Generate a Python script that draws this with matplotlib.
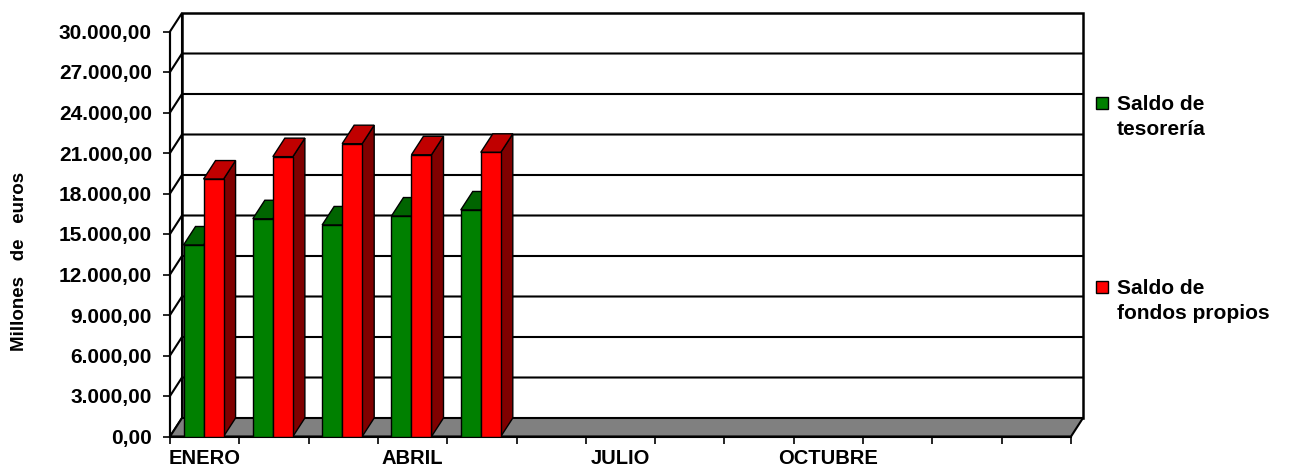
import matplotlib
matplotlib.use("Agg")
import matplotlib.pyplot as plt
import numpy as np
from matplotlib.patches import Polygon, Rectangle
from matplotlib.ticker import FuncFormatter

plt.rcParams["font.family"] = ["Liberation Sans", "DejaVu Sans"]
plt.rcParams["font.weight"] = "bold"

# ---------------------------------------------------------------------------
# Data
# ---------------------------------------------------------------------------
MESES = ["ENERO", "FEBRERO", "MARZO", "ABRIL", "MAYO", "JUNIO", "JULIO",
         "AGOSTO", "SEPTIEMBRE", "OCTUBRE", "NOVIEMBRE", "DICIEMBRE", ""]
TESORERIA = [14185, 16130, 15670, 16330, 16780]
FONDOS_PROPIOS = [19070, 20730, 21690, 20870, 21050]
SERIES = ["Saldo de\ntesorería", "Saldo de\nfondos propios"]
Y_TICKS = [0, 3000, 6000, 9000, 12000, 15000, 18000, 21000, 24000, 27000, 30000]
Y_LABEL = "Millones   de   euros"

# colours: front / top / side
GREEN = ("#008000", "#006400", "#004000")
RED = ("#ff0000", "#c00000", "#800000")

W, H = 1298, 468
Y_MAX = Y_TICKS[-1]
n = len(MESES)

# 3D depth offset, pixels -> data units
DX_PX, DY_PX = 12, 18.5
FRONT_W_PX, FRONT_H_PX = 901, 405
ddx = DX_PX / (FRONT_W_PX / n)
ddy = DY_PX * Y_MAX / FRONT_H_PX


def es_fmt(v, _pos=None):
    s = f"{v:,.2f}"
    return s.replace(",", "X").replace(".", ",").replace("X", ".")


fig = plt.figure(figsize=(W / 100, H / 100), dpi=100)
ax = fig.add_axes([170 / W, 31.5 / H, (FRONT_W_PX + DX_PX) / W,
                   (FRONT_H_PX + DY_PX) / H])
ax.set_facecolor("none")
ax.set_xlim(0, n + ddx)
ax.set_ylim(0, Y_MAX + ddy)

# --- walls and floor --------------------------------------------------------
ax.add_patch(Polygon([(0, 0), (ddx, ddy), (ddx, Y_MAX + ddy), (0, Y_MAX)],
                     fc="white", ec="black", lw=1.5, zorder=1, clip_on=False))
ax.add_patch(Rectangle((ddx, ddy), n, Y_MAX, fc="white", ec="black",
                       lw=1.8, zorder=1, clip_on=False))
for v in Y_TICKS[1:-1]:
    ax.plot([0, ddx, n + ddx], [v, v + ddy, v + ddy], color="black",
            lw=1.5, zorder=1.5, clip_on=False)
ax.add_patch(Polygon([(0, 0), (n, 0), (n + ddx, ddy), (ddx, ddy)],
                     fc="#808080", ec="black", lw=1.5, zorder=2, clip_on=False))

# --- 3D bars ----------------------------------------------------------------
BAR_W = 0.289
BAR_OFF = 0.195
z = 3
for i, pair in enumerate(zip(TESORERIA, FONDOS_PROPIOS)):
    for k, (val, cols) in enumerate(zip(pair, (GREEN, RED))):
        x0 = i + BAR_OFF + k * BAR_W
        x1 = x0 + BAR_W
        ax.add_patch(Polygon([(x1, 0), (x1 + ddx, ddy), (x1 + ddx, val + ddy),
                              (x1, val)], fc=cols[2], ec="black", lw=1.0,
                             zorder=z, clip_on=False))
        ax.add_patch(Polygon([(x0, val), (x0 + ddx, val + ddy),
                              (x1 + ddx, val + ddy), (x1, val)], fc=cols[1],
                             ec="black", lw=1.0, zorder=z, clip_on=False))
        ax.bar(x0, val, width=BAR_W, align="edge", color=cols[0],
               edgecolor="black", lw=1.0, zorder=z + 0.5)
        z += 1

# --- axes / ticks -----------------------------------------------------------
for s in ("top", "right"):
    ax.spines[s].set_visible(False)
ax.spines["left"].set_bounds(0, Y_MAX)
ax.spines["bottom"].set_bounds(0, n)
for s in ("left", "bottom"):
    ax.spines[s].set_linewidth(1.5)
    ax.spines[s].set_zorder(2.5)

ax.set_yticks(Y_TICKS)
ax.yaxis.set_major_formatter(FuncFormatter(es_fmt))
ax.tick_params(axis="y", direction="out", length=5, width=1.2, pad=8,
               labelsize=15)

ax.set_xticks(np.arange(n + 1))
ax.set_xticklabels([])
ax.set_xticks(np.arange(n) + 0.5, minor=True)
ax.set_xticklabels([m if i % 3 == 0 else "" for i, m in enumerate(MESES)],
                   minor=True)
ax.tick_params(axis="x", which="major", direction="out", length=5, width=1.2)
ax.tick_params(axis="x", which="minor", length=0, pad=9, labelsize=14.5)
for lbl in ax.get_xticklabels(minor=True) + ax.get_yticklabels():
    lbl.set_fontweight("bold")

fig.text(20 / W, 1 - 261 / H, Y_LABEL, rotation=90, ha="center",
         va="center", fontsize=13.5, fontweight="bold")

# --- legend (drawn by hand, Excel style) -------------------------------------
for label, cols, sq_top, base in zip(SERIES, (GREEN, RED), (97, 281), (110, 294)):
    fig.add_artist(Rectangle((1096 / W, 1 - (sq_top + 12) / H), 12 / W, 12 / H,
                             transform=fig.transFigure, fc=cols[0],
                             ec="black", lw=1.0))
    for j, line in enumerate(label.split("\n")):
        fig.text(1117 / W, 1 - (base + 25 * j) / H, line, ha="left",
                 va="baseline", fontsize=15, fontweight="bold")

fig.savefig("out.png", dpi=100)
